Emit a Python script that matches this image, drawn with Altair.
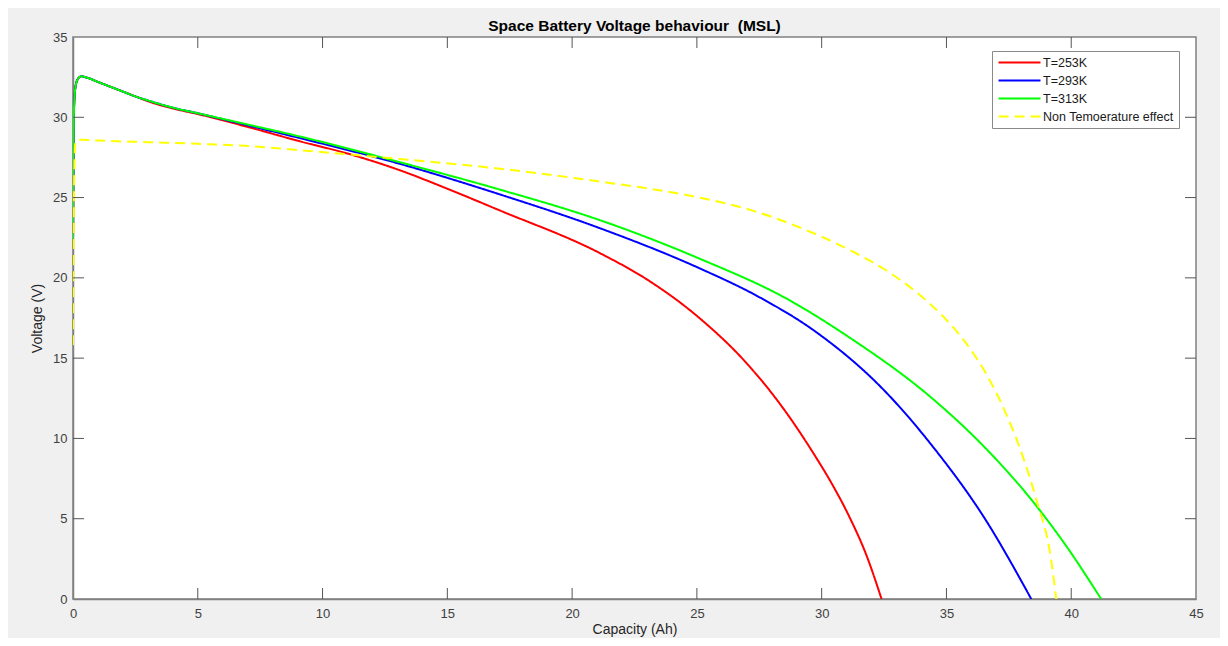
import altair as alt
import pandas as pd

# ---- data ----
series = ["T=253K", "T=293K", "T=313K", "Non Temoerature effect"]
colors = ["#ff0000", "#0000ff", "#00ff00", "#ffff00"]
dashes = [[1, 0], [1, 0], [1, 0], [10, 6]]

red_x = [0, 0.04, 0.1, 0.2, 0.33, 0.6, 1, 1.5, 2, 2.5, 3, 4, 5, 7, 9.1, 11.1, 13.1, 15, 17.1, 21.1, 23.1, 25.1, 27.1, 28.4, 29.7, 30.4, 31.1, 31.8, 32.4]
red_v = [22.2, 30.5, 31.9, 32.4, 32.55, 32.45, 32.2, 31.9, 31.6, 31.3, 31.0, 30.55, 30.2, 29.4, 28.5, 27.7, 26.7, 25.55, 24.2, 21.55, 19.8, 17.5, 14.5, 12.0, 9.0, 7.2, 5.15, 2.7, 0]

blue_x = [0, 0.04, 0.1, 0.2, 0.33, 0.6, 1, 1.5, 2, 2.5, 3, 4, 5, 7, 9.1, 13.1, 17.1, 21.1, 25.1, 27.5, 29.8, 32.5, 34.5, 36.5, 38.4]
blue_v = [22.2, 30.5, 31.9, 32.4, 32.55, 32.45, 32.2, 31.9, 31.6, 31.3, 31.05, 30.6, 30.25, 29.5, 28.7, 27.1, 25.2, 23.1, 20.6, 18.8, 16.6, 13.0, 9.4, 5.1, 0]

green_x = [0, 0.04, 0.1, 0.2, 0.33, 0.6, 1, 1.5, 2, 2.5, 3, 4, 5, 7, 9.1, 13.1, 17.1, 21.1, 25.1, 28.6, 31.1, 34.5, 36.5, 38.5, 39.8, 41.2]
green_v = [22.2, 30.5, 31.9, 32.4, 32.55, 32.45, 32.2, 31.9, 31.6, 31.3, 31.05, 30.6, 30.25, 29.55, 28.8, 27.2, 25.5, 23.6, 21.2, 18.7, 16.3, 12.4, 9.5, 6.0, 3.3, 0]

yellow_x = [0, 0.05, 0.1, 0.3, 1, 3, 5, 7.1, 9.1, 13.1, 17.1, 21.1, 23.1, 25.1, 27.1, 29.1, 31.1, 32.5, 33.8, 34.8, 35.8, 36.6, 37.4, 38.1, 38.6, 39.2, 39.4]
yellow_v = [15.8, 26.5, 28.5, 28.6, 28.55, 28.45, 28.35, 28.2, 27.95, 27.4, 26.8, 26.0, 25.55, 25.0, 24.25, 23.15, 21.75, 20.55, 19.1, 17.7, 15.9, 14.0, 11.5, 8.7, 6.2, 2.4, 0]

x_ticks = [0, 5, 10, 15, 20, 25, 30, 35, 40, 45]
y_ticks = [0, 5, 10, 15, 20, 25, 30, 35]

# ---- table ----
frames = []
for name, xs, vs in zip(series, [red_x, blue_x, green_x, yellow_x], [red_v, blue_v, green_v, yellow_v]):
    frames.append(pd.DataFrame({"x": xs, "v": vs, "series": name}))
df = pd.concat(frames, ignore_index=True)

W, H = 1123, 562
TL = 11
FONT = "Liberation Sans"

xscale = alt.Scale(domain=[0, 45], nice=False, zero=False)
yscale = alt.Scale(domain=[0, 35], nice=False, zero=False)

xaxis = alt.Axis(
    values=x_ticks, title="Capacity (Ah)", grid=False, ticks=False, tickSize=0,
    labelFlush=False, labelOverlap=False, labelPadding=8, labelFont=FONT, labelFontSize=13,
    labelColor="#404040", domainColor="#808080", domainWidth=1.5,
    titleFont=FONT, titleFontSize=14, titleFontWeight="normal", titleColor="#262626", titlePadding=2)
yaxis = alt.Axis(
    values=y_ticks, title="Voltage (V)", grid=False, ticks=False, tickSize=0,
    labelOverlap=False, labelPadding=6, labelFont=FONT, labelFontSize=13,
    labelColor="#404040", domainColor="#808080", domainWidth=1.5,
    titleFont=FONT, titleFontSize=14, titleFontWeight="normal", titleColor="#262626", titlePadding=8)

legend = alt.Legend(
    title=None, orient="none", legendX=919, legendY=14,
    symbolType="M-4,0H4", symbolSize=110, symbolStrokeWidth=2,
    symbolOffset=16, labelOffset=17,
    labelFont=FONT, labelFontSize=12.5, labelColor="#1a1a1a", labelLimit=400,
    strokeColor="#8a8a8a", fillColor="white", padding=5, rowPadding=5,
)

lines = alt.Chart(df).mark_line(strokeWidth=2, interpolate="monotone", clip=True).encode(
    x=alt.X("x:Q", scale=xscale, axis=xaxis),
    y=alt.Y("v:Q", scale=yscale, axis=yaxis),
    color=alt.Color("series:N", scale=alt.Scale(domain=series, range=colors), sort=series, legend=legend),
    strokeDash=alt.StrokeDash("series:N", scale=alt.Scale(domain=series, range=dashes), sort=series, legend=legend),
)

xt = pd.DataFrame({"x": x_ticks[1:-1]})
yt = pd.DataFrame({"v": y_ticks[1:-1]})
tick_color = "#555555"
xb = alt.Chart(xt).mark_rule(color=tick_color, strokeWidth=1).encode(
    x=alt.X("x:Q", scale=xscale, axis=xaxis), y=alt.value(H), y2=alt.value(H - TL))
xtop = alt.Chart(xt).mark_rule(color=tick_color, strokeWidth=1).encode(
    x=alt.X("x:Q", scale=xscale, axis=xaxis), y=alt.value(0), y2=alt.value(TL))
yl = alt.Chart(yt).mark_rule(color=tick_color, strokeWidth=1).encode(
    y=alt.Y("v:Q", scale=yscale, axis=yaxis), x=alt.value(0), x2=alt.value(TL))
yr = alt.Chart(yt).mark_rule(color=tick_color, strokeWidth=1).encode(
    y=alt.Y("v:Q", scale=yscale, axis=yaxis), x=alt.value(W), x2=alt.value(W - TL))

chart = alt.layer(lines, xb, xtop, yl, yr).properties(
    width=W, height=H,
    title=alt.Title("Space Battery Voltage behaviour\u00a0 (MSL)", font=FONT, fontSize=15.5,
                    fontWeight="bold", color="#000000", anchor="middle", frame="group",
                    baseline="bottom", offset=-18),
    autosize=alt.AutoSizeParams(type="none"),
    padding={"left": 65, "top": 29, "right": 24, "bottom": 39},
    background="#f0f0f0",
).configure_view(fill="white", stroke="#808080", strokeWidth=1.5)

chart.save("out.html", embed_options={"renderer": "svg", "actions": False})
